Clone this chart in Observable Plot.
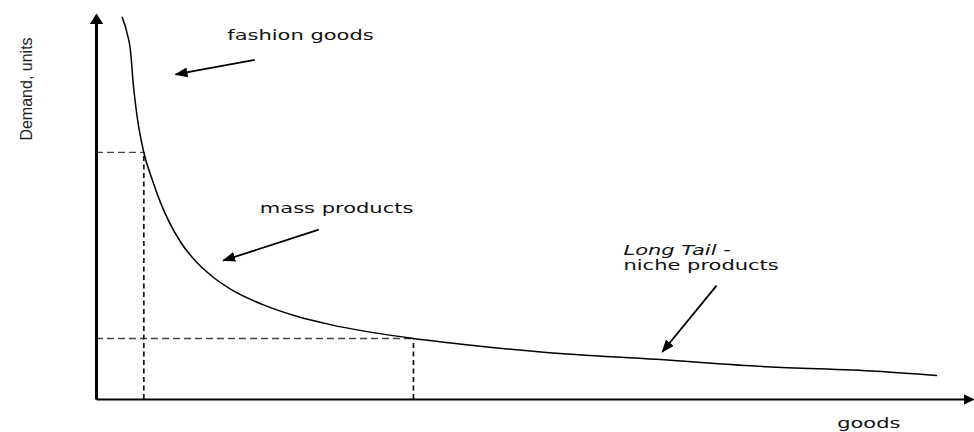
<!DOCTYPE html>
<html><head><meta charset="utf-8">
<script src="https://cdn.jsdelivr.net/npm/d3@7"></script>
<script src="https://cdn.jsdelivr.net/npm/@observablehq/plot@0.6"></script>
<style>body{margin:0;background:#fff;} svg{display:block}</style>
</head><body><div id="chart"></div>
<script>
// Demand curve (goods on x, demand units on y), values in abstract units 0–100
const curveX = [2.93, 3.50, 3.87, 4.18, 4.64, 5.39, 6.34, 7.29, 9.57, 11.47, 13.33, 15.26, 19.02, 22.89, 26.65, 36.10, 42.94, 51.25, 63.78, 76.31, 88.84, 95.67];
const curveY = [99.0, 94.8, 90.4, 81.9, 73.1, 64.0, 57.0, 51.0, 40.8, 35.4, 31.6, 28.6, 24.5, 21.5, 19.4, 15.8, 14.0, 12.2, 10.4, 8.5, 7.3, 6.2];
// dashed guide points on the curve
const guideX = [5.39, 36.10];
const guideY = [64.0, 15.8];
// annotation arrows (from -> to)
const arrowX1 = [18.03, 25.32, 70.62];
const arrowY1 = [88.0, 44.0, 29.5];
const arrowX2 = [9.00, 14.43, 64.43];
const arrowY2 = [84.2, 36.0, 12.3];
// annotation labels
const labelText = ["fashion goods", "mass products", "Long Tail -", "niche products", "goods"];
const labelX = [14.89, 18.6, 60.02, 60.02, 84.36];
const labelY = [93.26, 48.19, 37.31, 33.42, -7.51];
const labelItalic = [false, false, true, false, false];
// axes
const axisTitle = ["Demand, units"];
const axisTitleX = [-7.9];
const axisTitleY = [80.44];
const xAxisEnd = 99.8;
const yAxisEnd = 99.5;

const curve = curveX.map((x, i) => ({x, y: curveY[i]}));
const guides = guideX.map((x, i) => ({x, y: guideY[i]}));
const arrows = arrowX1.map((x1, i) => ({x1, y1: arrowY1[i], x2: arrowX2[i], y2: arrowY2[i]}));
const labels = labelText.map((t, i) => ({t, x: labelX[i], y: labelY[i], italic: labelItalic[i]}));
const titles = axisTitle.map((t, i) => ({t, x: axisTitleX[i], y: axisTitleY[i]}));

const font = "DejaVu Sans, Verdana, sans-serif";

const plot = Plot.plot({
  width: 974, height: 432,
  marginLeft: 96, marginRight: 0, marginTop: 13, marginBottom: 33,
  x: {domain: [0, 100], axis: null},
  y: {domain: [0, 100], axis: null},
  style: {background: "#fff", overflow: "visible"},
  marks: [
    Plot.ruleY(guides, {y: "y", x1: () => 0, x2: "x", stroke: "#444", strokeWidth: 1.3, strokeDasharray: "7,4"}),
    Plot.ruleX(guides, {x: "x", y1: () => 0, y2: "y", stroke: "#111", strokeWidth: 1.7, strokeDasharray: "5,3.5"}),
    Plot.line(curve, {x: "x", y: "y", curve: "monotone-x", stroke: "#000", strokeWidth: 1.5}),
    Plot.link([{x1: 0, y1: 0, x2: 0, y2: yAxisEnd}], {x1: "x1", y1: "y1", x2: "x2", y2: "y2", stroke: "#000", strokeWidth: 3}),
    Plot.link([{x1: 0, y1: 0, x2: xAxisEnd, y2: 0}], {x1: "x1", y1: "y1", x2: "x2", y2: "y2", stroke: "#000", strokeWidth: 2}),
    Plot.link(arrows, {x1: "x1", y1: "y1", x2: "x2", y2: "y2", stroke: "#000", strokeWidth: 1.8}),
    Plot.text(labels.filter(d => !d.italic), {x: "x", y: "y", text: "t", textAnchor: "start", lineAnchor: "bottom", fontSize: 14, fontFamily: font, fill: "#111"}),
    Plot.text(labels.filter(d => d.italic), {x: "x", y: "y", text: "t", textAnchor: "start", lineAnchor: "bottom", fontSize: 14, fontFamily: font, fontStyle: "italic", fill: "#111"}),
    Plot.text(titles, {x: "x", y: "y", text: "t", rotate: -90, textAnchor: "middle", fontSize: 16, fontFamily: "Liberation Sans, Arial, sans-serif", fill: "#222"})
  ]
});
document.getElementById("chart").appendChild(plot);

// filled triangle arrowheads
const ns = "http://www.w3.org/2000/svg";
const defs = document.createElementNS(ns, "defs");
function marker(id, len, wid, ref) {
  const m = document.createElementNS(ns, "marker");
  m.setAttribute("id", id);
  m.setAttribute("viewBox", `${-len} ${-wid / 2} ${len} ${wid}`);
  m.setAttribute("markerWidth", len);
  m.setAttribute("markerHeight", wid);
  m.setAttribute("refX", ref);
  m.setAttribute("refY", 0);
  m.setAttribute("orient", "auto");
  m.setAttribute("markerUnits", "userSpaceOnUse");
  const p = document.createElementNS(ns, "path");
  p.setAttribute("d", `M${-len},${-wid / 2}L0,0L${-len},${wid / 2}Z`);
  p.setAttribute("fill", "#000");
  m.appendChild(p);
  defs.appendChild(m);
}
marker("triY", 11, 14, -2);
marker("triX", 11, 11, -2);
marker("triN", 13, 10, -1);
plot.insertBefore(defs, plot.firstChild);
const linkGroups = plot.querySelectorAll('g[aria-label="link"]');
const ids = ["triY", "triX", "triN"];
linkGroups.forEach((g, i) => {
  g.querySelectorAll("path").forEach(p => p.setAttribute("marker-end", `url(#${ids[i]})`));
});

// the reference's annotation text is horizontally widened
const textGroups = plot.querySelectorAll('g[aria-label="text"]');
[textGroups[0], textGroups[1]].forEach(g => {
  if (!g) return;
  g.querySelectorAll("text").forEach(t => {
    const len = t.getComputedTextLength();
    t.setAttribute("textLength", (len * 1.5).toFixed(1));
    t.setAttribute("lengthAdjust", "spacingAndGlyphs");
  });
});
</script>
</body></html>
